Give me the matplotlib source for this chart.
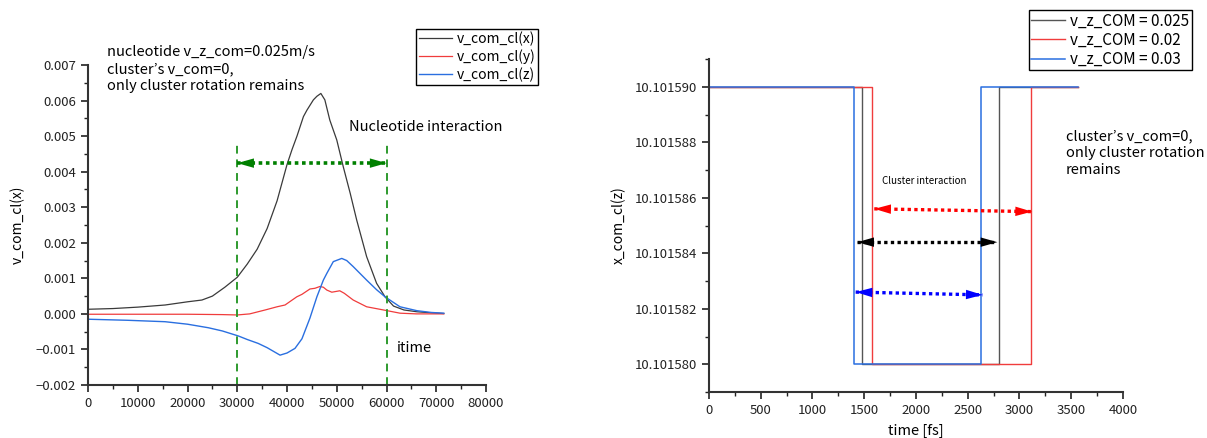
import numpy as np
import matplotlib
matplotlib.use("Agg")
import matplotlib.pyplot as plt
from matplotlib.ticker import MultipleLocator, FuncFormatter

plt.rcParams["font.family"] = ["Noto Sans CJK JP", "DejaVu Sans"]
plt.rcParams["axes.unicode_minus"] = True

# ── left panel: cluster COM velocity components ──────────────────────────────
T_X = [0, 5000, 10000, 15500, 20000, 22900, 25000, 27500, 30000, 32000, 34000,
       36000, 38000, 40000, 41000, 42000, 43300, 44000, 45300, 46000,
       46800, 47600, 48600, 50000, 51300, 52700, 54000, 56000, 58000, 59700,
       61400, 63500, 66100, 69000, 71500]
V_X = [0.00013, 0.00015, 0.00019, 0.00025, 0.00034, 0.00039, 0.00050, 0.00075,
       0.00103, 0.00140, 0.00182, 0.00240, 0.00318, 0.00420, 0.00462,
       0.00500, 0.00555, 0.00573, 0.00602, 0.00612, 0.00620, 0.00602, 0.00545,
       0.00489, 0.00414, 0.00339, 0.00264, 0.00161, 0.00086, 0.00048, 0.00022,
       0.00011, 0.00006, 0.00003, 0.00001]

T_Y = [0, 10000, 20000, 27000, 30000, 32500, 35600, 38000, 39600, 41960, 43000,
       44600, 45600, 46600, 47300, 48000, 49000, 50600, 51500, 53300, 56000,
       59400, 62700, 66000, 71500]
V_Y = [-0.00001, -0.00001, -0.00001, -0.00002, -0.00003, 0.00000, 0.00011,
       0.00020, 0.00025, 0.00048, 0.00055, 0.00070, 0.00072, 0.00077, 0.00075,
       0.00067, 0.00061, 0.00065, 0.00058, 0.00039, 0.00020, 0.00011, 0.00002,
       0.00000, 0.00000]

T_Z = [0, 0, 8000, 15500, 20000, 24200, 27000, 30200, 32000, 34200, 36000,
       38600, 40000, 41600, 43000, 44600, 46000, 47300, 48000, 49300, 51000,
       52000, 53300, 56000, 58000, 59700, 62700, 66100, 69000, 71500]
V_Z = [-0.0025, -0.00015, -0.00018, -0.00022, -0.00029, -0.00039, -0.00048,
       -0.00062, -0.00072, -0.00083, -0.00095, -0.00116, -0.00110, -0.00097,
       -0.00070, -0.00012, 0.00048, 0.00095, 0.00114, 0.00147, 0.00156,
       0.00150, 0.00133, 0.00095, 0.00068, 0.00048, 0.00020, 0.00009,
       0.00004, 0.00002]

LEFT_LABELS = ["v_com_cl(x)", "v_com_cl(y)", "v_com_cl(z)"]
NUC_WINDOW = [30000, 60000]

# ── right panel: step traces of x_com_cl(z) ───────────────────────────────────
Z_HI, Z_LO = 10.101590, 10.101580
T_025 = [0, 1481, 1481, 2802, 2802, 3570]
T_020 = [0, 1578, 1578, 3111, 3111, 3570]
T_030 = [0, 1404, 1404, 2628, 2628, 3570]
Z_STEP = [Z_HI, Z_HI, Z_LO, Z_LO, Z_HI, Z_HI]
RIGHT_LABELS = ["v_z_COM = 0.025", "v_z_COM = 0.02", "v_z_COM = 0.03"]
# (x_start, x_end, y_start, y_end) for the interaction arrows
ARR_020 = (1597, 3121, 10.1015856, 10.1015855)
ARR_025 = (1433, 2786, 10.1015844, 10.1015844)
ARR_030 = (1417, 2644, 10.1015826, 10.1015825)

C_BLK, C_RED, C_BLU = "#3a3a3a", "#f03c3c", "#2a6fe0"


def dbl_arrow(ax, x0, x1, y0, y1, color, lw=2.4):
    ax.plot([x0, x1], [y0, y1], ls=(0, (1, 1)), lw=lw, color=color,
            solid_capstyle="butt", zorder=5)
    style = "-|>,head_length=0.6,head_width=0.17"
    dx = (x1 - x0) * 0.02
    dy = (y1 - y0) * 0.02
    for tip, tail in [((x0, y0), (x0 + dx, y0 + dy)),
                      ((x1, y1), (x1 - dx, y1 - dy))]:
        ax.annotate("", xy=tip, xytext=tail,
                    arrowprops=dict(arrowstyle=style, color=color, lw=0,
                                    shrinkA=0, shrinkB=0, mutation_scale=20),
                    zorder=6)


def style_axes(ax):
    for s in ("top", "right"):
        ax.spines[s].set_visible(False)
    for s in ("left", "bottom"):
        ax.spines[s].set_linewidth(1.5)
        ax.spines[s].set_color("#333333")
    ax.tick_params(which="major", direction="out", length=5, width=1.2,
                   labelsize=9.5, colors="#222222")
    ax.tick_params(which="minor", direction="out", length=3, width=1.0,
                   colors="#222222")


fig = plt.figure(figsize=(12.07, 4.38), dpi=100, facecolor="white")
ax1 = fig.add_axes([0.0729, 0.121, 0.3298, 0.7306])
ax2 = fig.add_axes([0.5874, 0.105, 0.3430, 0.7603])

# ── left ─────────────────────────────────────────────────────────────────────
l1, = ax1.plot(T_X, V_X, color=C_BLK, lw=0.9)
l2, = ax1.plot(T_Y, V_Y, color=C_RED, lw=0.9)
l3, = ax1.plot(T_Z, V_Z, color=C_BLU, lw=1.0)
for xv in NUC_WINDOW:
    ax1.plot([xv, xv], [-0.002, 0.00483], color="#2e9a2e", lw=1.4,
             ls=(0, (4, 3)), clip_on=False)
dbl_arrow(ax1, NUC_WINDOW[0], NUC_WINDOW[1], 0.00424, 0.00424, "#008000", lw=2.6)

ax1.set_xlim(0, 80000)
ax1.set_ylim(-0.002, 0.007)
ax1.xaxis.set_major_locator(MultipleLocator(10000))
ax1.xaxis.set_minor_locator(MultipleLocator(5000))
ax1.yaxis.set_major_locator(MultipleLocator(0.001))
ax1.yaxis.set_minor_locator(MultipleLocator(0.0005))
ax1.yaxis.set_major_formatter(
    FuncFormatter(lambda v, p: f"{round(v, 6):.3f}".replace("-", "\u2212")))
style_axes(ax1)
ax1.set_ylabel("v_com_cl(x)", fontsize=10)
ax1.yaxis.set_label_coords(-0.158, 0.5)

leg1 = ax1.legend([l1, l2, l3], LEFT_LABELS, loc="upper left",
                  bbox_to_anchor=(0.824, 1.1125), borderaxespad=0,
                  fontsize=10, handlelength=2.4, handletextpad=0.35,
                  labelspacing=0.22, borderpad=0.2, fancybox=False,
                  framealpha=1, edgecolor="black")
leg1.get_frame().set_linewidth(1.0)

fig.text(107 / 1207, 1 - 69 / 438,
         "nucleotide v_z_com=0.025m/s\ncluster\u2019s v_com=0,\nonly cluster rotation remains",
         fontsize=10.5, va="center", ha="left", linespacing=1.25)
fig.text(349 / 1207, 1 - 127 / 438, "Nucleotide interaction",
         fontsize=10.5, va="center", ha="left")
fig.text(397 / 1207, 1 - 348 / 438, "itime", fontsize=10.5, va="center", ha="left")

# ── right ────────────────────────────────────────────────────────────────────
r1, = ax2.plot(T_025, Z_STEP, color="#555555", lw=1.0)
r2, = ax2.plot(T_020, Z_STEP, color=C_RED, lw=1.0)
r3, = ax2.plot(T_030, Z_STEP, color=C_BLU, lw=1.1)

dbl_arrow(ax2, *ARR_020, "#ff0000")
dbl_arrow(ax2, *ARR_025, "#000000")
dbl_arrow(ax2, *ARR_030, "#0000ff")

ax2.set_xlim(0, 4000)
ax2.set_ylim(10.101579, 10.101591)
ax2.xaxis.set_major_locator(MultipleLocator(500))
ax2.xaxis.set_minor_locator(MultipleLocator(250))
ax2.yaxis.set_major_locator(MultipleLocator(0.000002))
ax2.yaxis.set_minor_locator(MultipleLocator(0.000001))
ax2.yaxis.set_major_formatter(FuncFormatter(lambda v, p: f"{v:.6f}"))
ax2.ticklabel_format(axis="x", style="plain")
style_axes(ax2)
ax2.set_ylabel("x_com_cl(z)", fontsize=10)
ax2.yaxis.set_label_coords(-0.2, 0.5)
ax2.set_xlabel("time [fs]", fontsize=10.5)
ax2.xaxis.set_label_coords(0.5, -0.095)

leg2 = ax2.legend([r1, r2, r3], RIGHT_LABELS, loc="upper left",
                  bbox_to_anchor=(0.773, 1.147), borderaxespad=0,
                  fontsize=11, handlelength=2.2, handletextpad=0.35,
                  labelspacing=0.15, borderpad=0.15, fancybox=False,
                  framealpha=1, edgecolor="black")
leg2.get_frame().set_linewidth(1.0)

ax2.text(1671, 10.1015866, "Cluster interaction", fontsize=7, va="center",
         ha="left")
fig.text(1066 / 1207, 1 - 153.5 / 438,
         "cluster\u2019s v_com=0,\nonly cluster rotation\nremains",
         fontsize=10.5, va="center", ha="left", linespacing=1.25)

fig.savefig("out.png", dpi=100, facecolor="white")
